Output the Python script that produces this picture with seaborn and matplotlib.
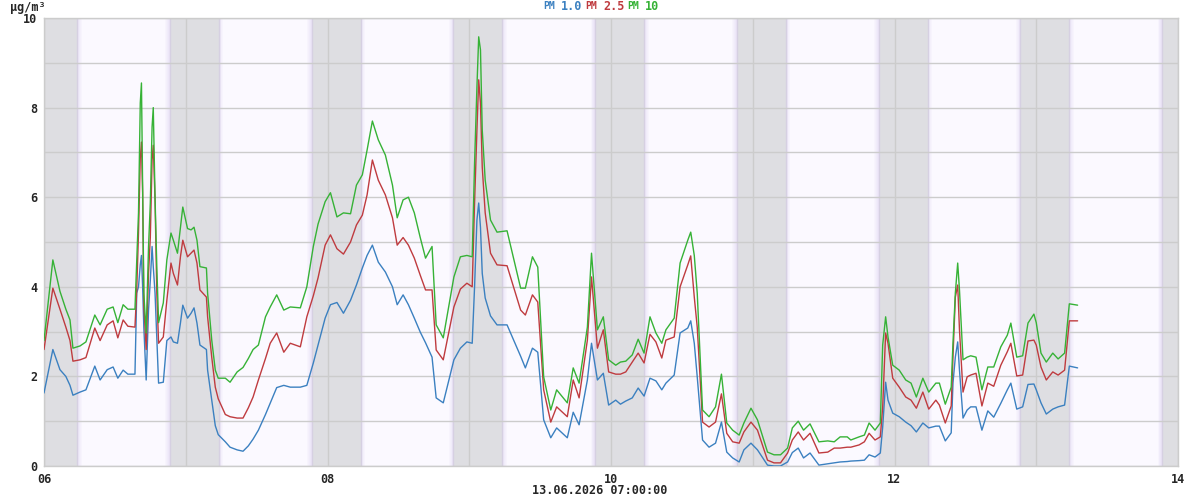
import pandas as pd
import seaborn as sns
import matplotlib.pyplot as plt
from matplotlib.ticker import MultipleLocator

# hours since 06.06.2026 00:00
hours = [0, 1.5, 2.7, 3.7, 4.4, 4.9, 6.1, 7.1, 8.6, 9.5, 10.7, 11.7, 12.5, 13.4, 14.2, 15.4,
         15.7, 16.0, 16.3, 16.5, 16.7, 16.9, 17.3, 17.7, 18.0, 18.3, 18.5, 18.8, 19.1, 19.4,
         20.2, 20.8, 21.5, 21.9, 22.6, 23.1, 23.5, 24.3, 24.9, 25.4, 25.9, 26.4, 27.5, 27.7, 28.4, 29.0, 29.5,
         30.7, 31.5, 32.7, 33.7, 34.6, 35.4, 36.3, 37.5, 38.3, 39.4, 40.6, 41.7, 43.4, 44.5, 45.6, 46.4, 47.6, 48.5, 49.6, 50.7, 51.9,
         52.9, 53.9, 54.7, 55.6, 56.6, 57.8, 59.0, 59.8, 60.8, 61.7, 62.7, 63.7, 64.6, 65.7, 66.4, 67.6, 69.4, 70.5, 71.6, 72.5,
         72.9, 73.3, 73.6, 73.9, 74.2, 74.7, 75.6, 76.7, 78.4, 80.7, 81.5, 82.7, 83.6,
         84.6, 85.8, 86.8, 88.6, 89.6, 90.6, 92.0, 92.7, 93.7, 94.7, 95.6, 96.8, 97.6, 98.5, 99.6, 100.6, 101.6, 102.6, 103.6, 104.6, 105.3, 106.7, 107.7, 109.0, 109.5, 110.1, 110.6,
         111.5, 112.6, 113.7, 114.7, 115.6, 116.6, 117.7, 118.5, 119.7, 120.8, 122.5, 123.6, 124.7, 125.9, 126.7, 127.7, 128.6, 129.7, 131.2, 132.7, 133.8, 134.8, 136.0, 136.6, 138.0, 138.9, 139.7, 140.7, 141.6,
         142.0, 142.5, 142.9, 143.7, 144.8, 145.9, 146.8, 147.7, 148.8, 149.8, 151.0, 151.6, 152.6, 153.6,
         153.9, 154.3, 154.7, 155.0, 155.6, 156.3, 156.9, 157.8, 158.8, 159.8, 160.8, 162.0, 163.1, 163.7, 164.7, 165.7, 166.6, 167.6, 168.0, 168.8, 169.7, 170.8, 171.7, 172.8, 173.6, 175.0]

pm10 = [2.8, 4.6, 3.9, 3.5, 3.26, 2.63, 2.68, 2.77, 3.37, 3.15, 3.5, 3.55, 3.2, 3.6, 3.5, 3.5,
        4.55, 5.65, 8.1, 8.55, 6.16, 3.86, 2.97, 4.9, 5.87, 7.57, 8.0, 6.0, 4.45, 3.2,
        3.64, 4.6, 5.2, 5.04, 4.75, 5.33, 5.78, 5.3, 5.27, 5.33, 5.04, 4.45, 4.42, 3.86, 2.81, 2.14, 1.96,
        1.96, 1.87, 2.1, 2.2, 2.4, 2.6, 2.7, 3.33, 3.55, 3.82, 3.48, 3.55, 3.53, 4.0, 4.9, 5.4, 5.9, 6.1, 5.56, 5.65, 5.63,
        6.27, 6.5, 7.05, 7.7, 7.28, 6.94, 6.27, 5.54, 5.94, 6.0, 5.65, 5.1, 4.64, 4.9, 3.15, 2.86, 4.22, 4.67, 4.7, 4.67,
        6.76, 8.46, 9.58, 9.29, 7.5, 6.38, 5.49, 5.22, 5.25, 3.97, 3.97, 4.67, 4.44,
        1.99, 1.25, 1.7, 1.41, 2.19, 1.85, 3.1, 4.75, 3.04, 3.33, 2.37, 2.25, 2.32, 2.34, 2.48, 2.83, 2.52, 3.33, 2.97, 2.74, 3.04, 3.3, 4.53, 5.04, 5.22, 4.7, 3.86,
        1.25, 1.1, 1.32, 2.05, 0.96, 0.8, 0.69, 0.96, 1.29, 1.03, 0.31, 0.25, 0.25, 0.4, 0.85, 1.0, 0.8, 0.94, 0.54, 0.56, 0.54, 0.65, 0.65, 0.58, 0.65, 0.69, 0.96, 0.8, 0.96,
        2.7, 3.33, 2.88, 2.25, 2.14, 1.92, 1.85, 1.54, 1.96, 1.65, 1.85, 1.85, 1.38, 1.76,
        2.74, 3.86, 4.53, 3.93, 2.37, 2.43, 2.46, 2.43, 1.7, 2.21, 2.21, 2.66, 2.92, 3.19, 2.43, 2.46, 3.19, 3.39, 3.2, 2.52, 2.32, 2.52, 2.39, 2.52, 3.62, 3.59]

pm25 = [2.6, 3.97, 3.5, 3.1, 2.8, 2.34, 2.37, 2.42, 3.08, 2.8, 3.15, 3.24, 2.86, 3.26, 3.12, 3.1,
        3.93, 5.2, 6.87, 7.23, 6.1, 3.6, 2.6, 4.3, 5.1, 6.83, 7.16, 5.94, 3.86, 2.74,
        2.88, 3.7, 4.53, 4.3, 4.04, 4.67, 5.04, 4.67, 4.75, 4.82, 4.53, 3.93, 3.77, 3.33, 2.43, 1.76, 1.5,
        1.15, 1.1, 1.07, 1.07, 1.3, 1.54, 1.92, 2.4, 2.74, 2.97, 2.54, 2.74, 2.66, 3.33, 3.8, 4.2, 4.93, 5.16, 4.85, 4.73, 5.0,
        5.38, 5.6, 6.05, 6.83, 6.38, 6.05, 5.54, 4.93, 5.1, 4.93, 4.64, 4.26, 3.93, 3.93, 2.59, 2.37, 3.55, 3.95, 4.08, 4.0,
        5.87, 7.5, 8.62, 8.1, 6.67, 5.65, 4.75, 4.49, 4.47, 3.48, 3.37, 3.82, 3.66,
        1.7, 0.98, 1.32, 1.1, 1.92, 1.52, 2.81, 4.22, 2.63, 3.04, 2.1, 2.05, 2.05, 2.1, 2.32, 2.52, 2.3, 2.94, 2.77, 2.41, 2.81, 2.88, 4.0, 4.49, 4.69, 3.77, 3.1,
        0.98, 0.87, 0.98, 1.61, 0.73, 0.54, 0.51, 0.76, 0.98, 0.8, 0.13, 0.07, 0.07, 0.29, 0.58, 0.76, 0.58, 0.73, 0.29, 0.31, 0.4, 0.4, 0.42, 0.42, 0.47, 0.54, 0.73, 0.58, 0.65,
        1.32, 2.97, 2.74, 1.96, 1.76, 1.54, 1.47, 1.29, 1.65, 1.27, 1.47, 1.36, 0.96, 1.34,
        2.43, 3.77, 4.04, 3.04, 1.65, 1.99, 2.03, 2.07, 1.34, 1.85, 1.78, 2.25, 2.55, 2.74, 2.01, 2.03, 2.79, 2.81, 2.7, 2.21, 1.92, 2.1, 2.03, 2.14, 3.24, 3.24]

pm1 = [1.63, 2.6, 2.15, 2.0, 1.8, 1.58, 1.65, 1.7, 2.23, 1.92, 2.15, 2.21, 1.96, 2.14, 2.05, 2.05,
       3.86, 4.0, 4.49, 4.7, 4.0, 3.1, 1.92, 3.48, 4.15, 4.9, 4.45, 3.86, 2.88, 1.85,
       1.87, 2.8, 2.88, 2.77, 2.74, 3.19, 3.59, 3.3, 3.41, 3.53, 3.19, 2.7, 2.6, 2.14, 1.47, 0.9, 0.7,
       0.54, 0.42, 0.36, 0.33, 0.45, 0.6, 0.8, 1.15, 1.4, 1.75, 1.8, 1.76, 1.76, 1.8, 2.3, 2.7, 3.3, 3.6, 3.65, 3.41, 3.7,
       4.04, 4.42, 4.7, 4.93, 4.55, 4.33, 4.0, 3.6, 3.82, 3.6, 3.3, 2.99, 2.75, 2.43, 1.52, 1.41, 2.37, 2.63, 2.77, 2.74,
       4.0, 5.49, 5.87, 5.33, 4.3, 3.75, 3.35, 3.15, 3.15, 2.45, 2.19, 2.63, 2.54,
       1.03, 0.63, 0.85, 0.63, 1.2, 0.92, 1.92, 2.74, 1.92, 2.07, 1.36, 1.47, 1.38, 1.45, 1.52, 1.74, 1.56, 1.96, 1.9, 1.7, 1.85, 2.03, 2.97, 3.08, 3.24, 2.74, 1.99,
       0.58, 0.42, 0.51, 0.98, 0.31, 0.18, 0.09, 0.36, 0.51, 0.36, 0.02, 0.0, 0.0, 0.09, 0.3, 0.4, 0.18, 0.29, 0.02, 0.05, 0.07, 0.09, 0.1, 0.11, 0.12, 0.13, 0.25, 0.2, 0.29,
       0.87, 1.87, 1.47, 1.18, 1.1, 0.98, 0.9, 0.76, 0.96, 0.85, 0.89, 0.89, 0.56, 0.74,
       1.85, 2.43, 2.77, 2.14, 1.07, 1.25, 1.32, 1.32, 0.8, 1.23, 1.09, 1.4, 1.7, 1.85, 1.27, 1.32, 1.82, 1.83, 1.7, 1.41, 1.16, 1.27, 1.32, 1.36, 2.23, 2.19]

series_names = ["PM 1.0", "PM 2.5", "PM 10"]
series_colors = ["#3b80c0", "#bf3b3f", "#36b236"]
day_labels = ["06", "08", "10", "12", "14"]
stamp = "13.06.2026 07:00:00"

# night hours (sunset / sunrise, hours of day)
sunset = 21.3
sunrise = 5.6

FONT = "DejaVu Sans Mono"

df = pd.DataFrame({"hour": hours, "PM 1.0": pm1, "PM 2.5": pm25, "PM 10": pm10})
df_long = df.melt(id_vars="hour", var_name="series", value_name="value")

sns.set_style("white")
fig = plt.figure(figsize=(12, 5), dpi=100)
ax = fig.add_axes([44 / 1200, 34 / 500, 1134 / 1200, 448 / 500])
ax.set_facecolor("#fbf9ff")

# night bands with a soft lavender fringe
for d in range(-1, 8):
    start = d * 24 + sunset
    end = (d + 1) * 24 + sunrise
    ax.axvspan(start, end, color="#dedee2", lw=0, zorder=0)
    for i in range(5):
        a = 0.55 * (1 - i / 5)
        ax.axvspan(start - (i + 1) * 0.15, start - i * 0.15, color="#dcd2f0", alpha=a, lw=0, zorder=0)
        ax.axvspan(end + i * 0.15, end + (i + 1) * 0.15, color="#dcd2f0", alpha=a, lw=0, zorder=0)
    ax.axvline(start, color="#d6d0e2", lw=1, zorder=0.5)
    ax.axvline(end, color="#d6d0e2", lw=1, zorder=0.5)

sns.lineplot(data=df_long, x="hour", y="value", hue="series", hue_order=series_names,
             palette=series_colors, linewidth=1, legend=False, ax=ax, zorder=3)

ax.set_xlim(0, 192)
ax.set_ylim(0, 10)
ax.xaxis.set_major_locator(MultipleLocator(48))
ax.xaxis.set_minor_locator(MultipleLocator(24))
ax.yaxis.set_major_locator(MultipleLocator(2))
ax.yaxis.set_minor_locator(MultipleLocator(1))
ax.set_xticks([0, 48, 96, 144, 192])
ax.set_xticklabels(day_labels)
ax.grid(which="both", color="#cccccc", lw=1, zorder=1)
ax.set_axisbelow(True)
ax.tick_params(which="both", length=0, labelsize=8.5, pad=5)
for lab in ax.get_xticklabels() + ax.get_yticklabels():
    lab.set_fontfamily(FONT)
    lab.set_fontweight("bold")
for s in ax.spines.values():
    s.set_color("#cccccc")
    s.set_linewidth(1)
ax.set_xlabel("")
ax.set_ylabel("")

fig.text(10 / 1200, 1 - 8 / 500, "µg/m³", fontsize=8.5, fontweight="bold", family=FONT, va="center")

# legend at the top
legend_x = [543, 585, 627]
for name, color, lx in zip(series_names, series_colors, legend_x):
    pm, num = name.split(" ")
    fig.text(lx / 1200, 1 - 6 / 500, pm, fontsize=7, fontweight="bold", family=FONT, color=color, va="center")
    fig.text((lx + 18) / 1200, 1 - 6 / 500, num, fontsize=8.5, fontweight="bold", family=FONT, color=color, va="center")

fig.text(600 / 1200, 9 / 500, stamp, fontsize=8.5, fontweight="bold", family=FONT, ha="center", va="center")

fig.savefig("out.png", dpi=100)
